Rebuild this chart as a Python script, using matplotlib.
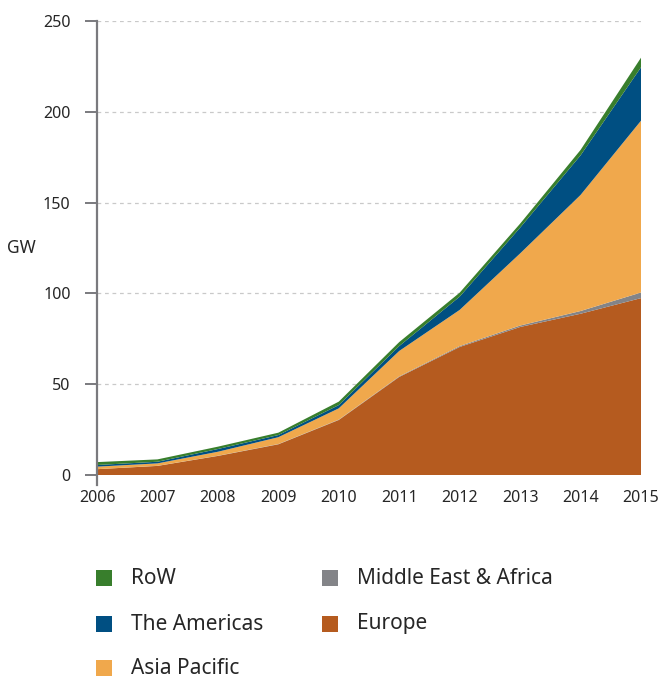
import matplotlib
matplotlib.use("Agg")
import matplotlib.pyplot as plt
from matplotlib.patches import Rectangle

# Cumulative installed PV capacity by region (GW)
years = [2006, 2007, 2008, 2009, 2010, 2011, 2012, 2013, 2014, 2015]
europe = [3.2, 5.0, 10.5, 16.9, 30.3, 54.0, 70.5, 81.5, 88.8, 97.4]
middle_east_africa = [0.0, 0.05, 0.1, 0.15, 0.2, 0.3, 0.5, 0.8, 1.5, 3.1]
asia_pacific = [1.4, 1.35, 2.2, 3.75, 6.2, 14.0, 19.9, 39.7, 63.9, 94.6]
americas = [0.9, 0.9, 1.5, 1.2, 1.8, 2.7, 7.3, 14.2, 21.8, 29.4]
rest_of_world = [1.6, 1.3, 1.3, 1.3, 1.9, 2.2, 2.2, 2.2, 3.0, 5.3]

y_ticks = [0, 50, 100, 150, 200, 250]

C_EUROPE = "#b55b1f"
C_MEA = "#838488"
C_APAC = "#f0a84c"
C_AMERICAS = "#004f82"
C_ROW = "#387e2c"
TEXT = "#262626"
AXIS = "#7a7a7e"

plt.rcParams["font.family"] = ["Noto Sans", "DejaVu Sans"]

fig = plt.figure(figsize=(6.6, 6.77), dpi=100)
W, H = 660, 677
ax = fig.add_axes([97 / W, 1 - 475 / H, (641 - 97) / W, (475 - 21) / H])

ax.stackplot(years, europe, middle_east_africa, asia_pacific, americas, rest_of_world,
             colors=[C_EUROPE, C_MEA, C_APAC, C_AMERICAS, C_ROW], linewidth=0, zorder=2)

ax.set_xlim(years[0], years[-1])
ax.set_ylim(0, 250)
ax.set_xticks(years)
ax.set_yticks(y_ticks)

ax.grid(axis="y", color="#c9c9c9", linestyle=(0, (3, 3)), linewidth=0.9, zorder=1)
ax.grid(axis="x", visible=False)

for side in ("top", "right", "bottom"):
    ax.spines[side].set_visible(False)
ax.spines["left"].set_color(AXIS)
ax.spines["left"].set_linewidth(1.6)
ax.spines["left"].set_bounds(-5.5, 250)

ax.tick_params(axis="y", length=9, width=1.4, color=AXIS, labelsize=11.5,
               labelcolor=TEXT, pad=10)
ax.tick_params(axis="x", length=0, labelsize=11.5, labelcolor=TEXT, pad=11)

fig.text(21 / W, 1 - 248 / H, "GW", ha="center", va="center", fontsize=12.5,
         color=TEXT, fontweight="medium")

# Legend: two columns of coloured squares with labels
legend_items = [
    ("RoW", C_ROW), ("The Americas", C_AMERICAS), ("Asia Pacific", C_APAC),
    ("Middle East & Africa", C_MEA), ("Europe", C_EUROPE),
]
col_x = [96, 322]
row_y = [578, 624, 668]
sq = 16
for i, (label, color) in enumerate(legend_items):
    col, row = (0, i) if i < 3 else (1, i - 3)
    x0, yc = col_x[col], row_y[row]
    fig.add_artist(Rectangle((x0 / W, 1 - (yc + sq / 2) / H), sq / W, sq / H,
                             transform=fig.transFigure, facecolor=color,
                             edgecolor="none"))
    fig.text((x0 + 35) / W, 1 - yc / H, label, ha="left", va="center",
             fontsize=15, color=TEXT)

fig.savefig("out.png", dpi=100)
